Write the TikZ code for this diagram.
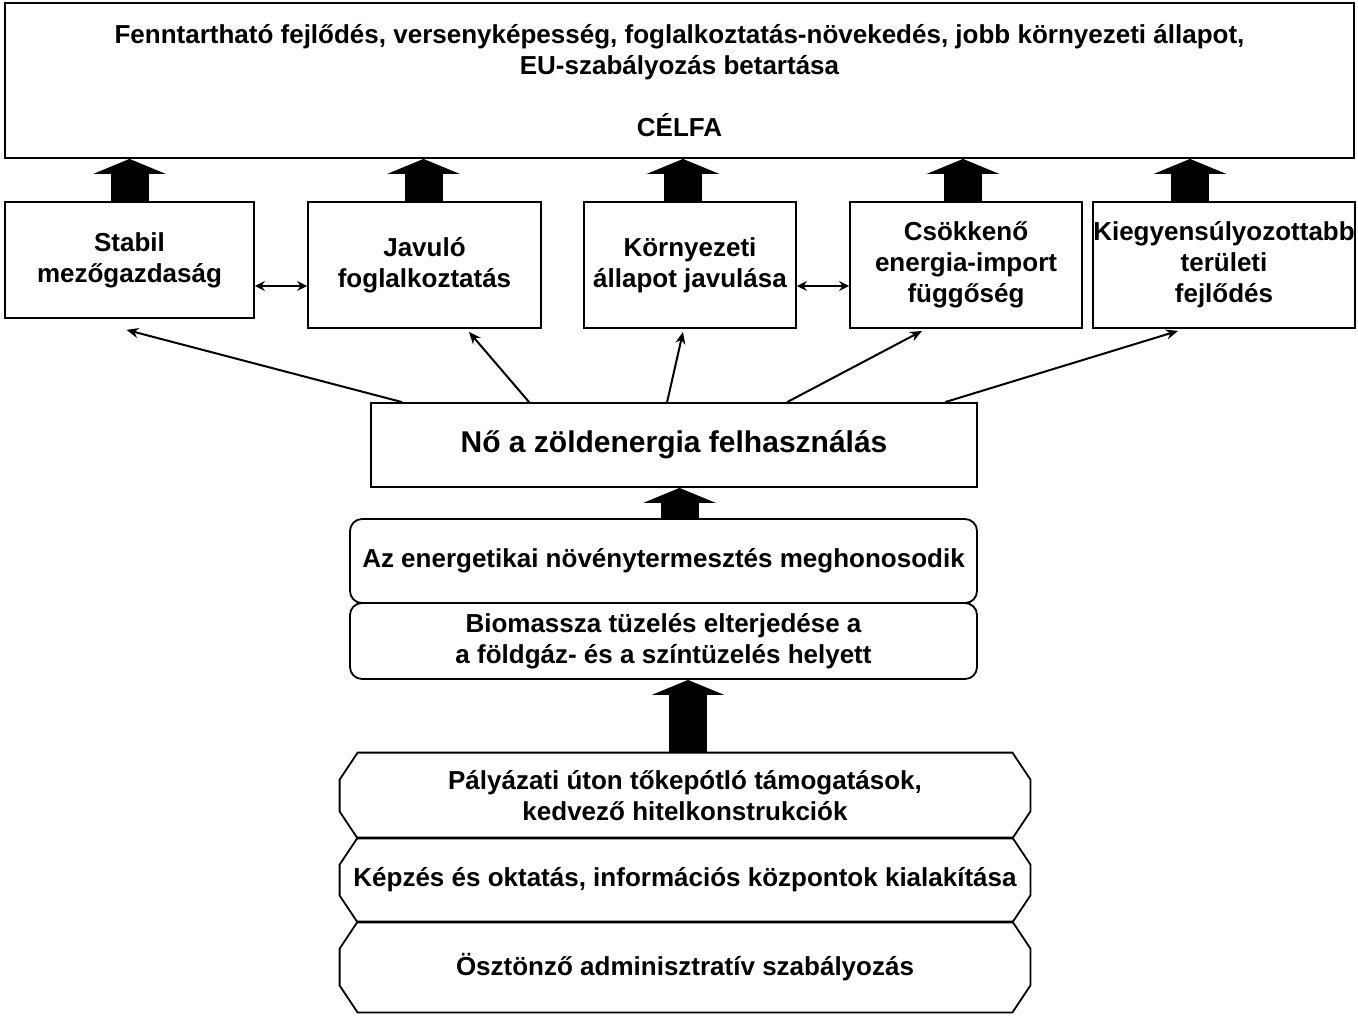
\documentclass[tikz,border=0pt]{standalone}
\usepackage{fontspec}
\setmainfont{Liberation Sans}
\usetikzlibrary{arrows.meta,calc}
\begin{document}
\begin{tikzpicture}[x=0.5pt,y=-0.5pt,
  txt/.style={align=center, inner sep=0pt, font=\bfseries\fontsize{13}{15.5}\selectfont},
  box/.style={txt, draw, line width=0.9pt},
  rbox/.style={box, rounded corners=6pt},
  obox/.style={txt},
  outline/.style={line width=0.9pt},
  bigarrow/.style={line width=19pt, -{Triangle[width=36pt,length=7.5pt]}},
  thinarrow/.style={line width=1pt, -{Stealth[length=6pt,width=5pt]}},
  dblarrow/.style={line width=1pt, {Stealth[length=5pt,width=5pt]}-{Stealth[length=5pt,width=5pt]}}
]
\useasboundingbox (0,0) rectangle (1358,1019);
\fill[white] (0,0) rectangle (1358,1019);

% top goal box
\node[box, minimum width=674.5pt, minimum height=77.5pt] (top) at (679.5,80.5)
  {Fenntartható fejlődés, versenyképesség, foglalkoztatás-növekedés, jobb környezeti állapot,\\
   EU-szabályozás betartása\\[15.5pt]CÉLFA};

% row of effects
\node[box, minimum width=124.5pt, minimum height=58pt] (s1) at (129.5,260) {Stabil\\mezőgazdaság};
\node[box, minimum width=116.5pt, minimum height=63pt] (s2) at (424.5,265) {Javuló\\foglalkoztatás};
\node[box, minimum width=106pt, minimum height=63pt] (s3) at (690,265) {Környezeti\\állapot javulása};
\node[box, minimum width=116pt, minimum height=63pt] (s4) at (966,265) {Csökkenő\\energia-import\\függőség};
\node[box, minimum width=130pt, minimum height=63pt] (s5) at (1224,265) {Kiegyensúlyozottabb\\területi\\fejlődés};

% green energy
\node[box, minimum width=303pt, minimum height=42pt, font=\bfseries\fontsize{15}{18}\selectfont] (g) at (674,445) {Nő a zöldenergia felhasználás};

% rounded boxes
\node[rbox, minimum width=313.5pt, minimum height=42pt] (e1) at (663.5,561) {Az energetikai növénytermesztés meghonosodik};
\node[rbox, minimum width=313.5pt, minimum height=38pt] (e2) at (663.5,641) {Biomassza tüzelés elterjedése a\\a földgáz- és a színtüzelés helyett};

% chamfered boxes
\node[obox, minimum width=345pt, minimum height=42.5pt] (o1) at (685,795.5) {Pályázati úton tőkepótló támogatások,\\kedvező hitelkonstrukciók};
\node[obox, minimum width=345pt, minimum height=42pt] (o2) at (685,880) {Képzés és oktatás, információs központok kialakítása};
\node[obox, minimum width=345pt, minimum height=45pt] (o3) at (685,967) {Ösztönző adminisztratív szabályozás};
\foreach \o in {o1,o2,o3}{
  \draw[outline] ($(\o.north west)+(18,0)$) -- ($(\o.north east)+(-18,0)$)
    -- ($(\o.north east)+(0,27)$) -- ($(\o.south east)+(0,-27)$)
    -- ($(\o.south east)+(-18,0)$) -- ($(\o.south west)+(18,0)$)
    -- ($(\o.south west)+(0,-27)$) -- ($(\o.north west)+(0,27)$) -- cycle;
}

% thick arrows to goal
\draw[bigarrow] (s1.north) -- (s1.north |- top.south);
\draw[bigarrow] ($(s2.north)+(-1,0)$) -- ($(s2.north |- top.south)+(-1,0)$);
\draw[bigarrow] ($(s3.north)+(-7,0)$) -- ($(s3.north |- top.south)+(-7,0)$);
\draw[bigarrow] ($(s4.north)+(-3,0)$) -- ($(s4.north |- top.south)+(-3,0)$);
\draw[bigarrow] ($(s5.north)+(-34,0)$) -- ($(s5.north |- top.south)+(-34,0)$);

% double arrows
\draw[dblarrow] (s1.east |- 0,286) -- (s2.west |- 0,286);
\draw[dblarrow] (s3.east |- 0,286) -- (s4.west |- 0,286);

% thin arrows from green energy
\draw[thinarrow] ($(g.north west)+(32,0)$) -- ($(s1.south)+(-3,11)$);
\draw[thinarrow] ($(g.north west)+(159,0)$) -- ($(s2.south)+(44.5,3)$);
\draw[thinarrow] ($(g.north west)+(297,0)$) -- ($(s3.south)+(-7,3)$);
\draw[thinarrow] ($(g.north west)+(417,0)$) -- ($(s4.south)+(-44,2)$);
\draw[thinarrow] ($(g.north west)+(575,0)$) -- ($(s5.south)+(-46,2)$);

% thick arrows lower
\draw[bigarrow] ($(e1.north)+(16,0)$) -- ($(e1.north |- g.south)+(16,0)$);
\draw[bigarrow] ($(o1.north)+(3,0)$) -- ($(o1.north |- e2.south)+(3,0)$);
\end{tikzpicture}
\end{document}
